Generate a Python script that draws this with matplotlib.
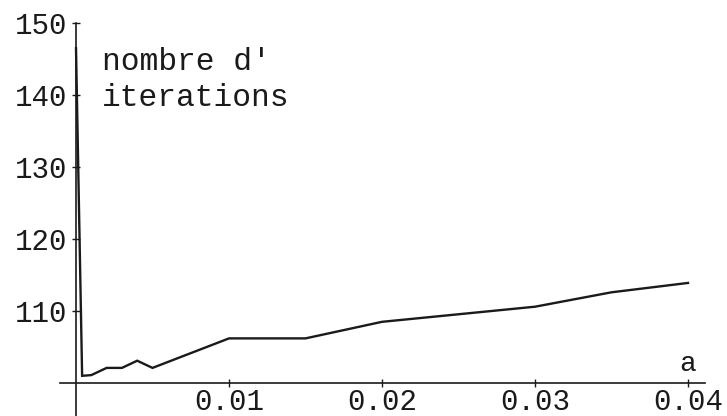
import matplotlib
matplotlib.use("Agg")
import matplotlib.pyplot as plt

# values
a_vals = [0.0, 0.0004, 0.001, 0.002, 0.003, 0.004, 0.005, 0.01, 0.015, 0.02, 0.03, 0.035, 0.04]
iterations = [146.5, 101.0, 101.1, 102.1, 102.1, 103.1, 102.1, 106.2, 106.2, 108.5, 110.6, 112.6, 113.9]

x_ticks = [0.01, 0.02, 0.03, 0.04]
x_labels = ["0.01", "0.02", "0.03", "0.04"]
y_ticks = [110, 120, 130, 140, 150]
y_labels = ["110", "120", "130", "140", "150"]

plt.rcParams['font.family'] = ['Liberation Mono', 'DejaVu Sans Mono']
ink = "#1a1a1a"

fig = plt.figure(figsize=(7.27, 4.16), dpi=100)
ax = fig.add_axes([60 / 727, 0.0, 645 / 727, 1 - 22 / 416])

ax.plot(a_vals, iterations, color=ink, lw=1.7, solid_joinstyle="miter")

ax.set_xlim(-0.001046, 0.04111)
ax.set_ylim(95.42, 150.14)

# axes crossing at (0, 100) like Mathematica
ax.spines["left"].set_position(("data", 0))
ax.spines["bottom"].set_position(("data", 100))
ax.spines["right"].set_visible(False)
ax.spines["top"].set_visible(False)
ax.spines["left"].set_bounds(95.42, 150)
for s in ("left", "bottom"):
    ax.spines[s].set_linewidth(1.2)
    ax.spines[s].set_color(ink)

ax.set_xticks(x_ticks, x_labels)
ax.set_yticks(y_ticks, y_labels)
ax.tick_params(direction="inout", length=6, width=1.0, color=ink,
               labelsize=21, labelcolor=ink)
ax.tick_params(axis="y", pad=3)
ax.tick_params(axis="x", pad=0.5)

ax.text(0.0400, 100.8, "a", fontsize=20, color=ink, ha="center", va="bottom")
ax.text(0.0072, 144.6, "nombre d'", fontsize=22.5, color=ink, ha="center", va="center")
ax.text(0.0078, 139.6, "iterations", fontsize=22.5, color=ink, ha="center", va="center")

fig.savefig("out.png", dpi=100)
